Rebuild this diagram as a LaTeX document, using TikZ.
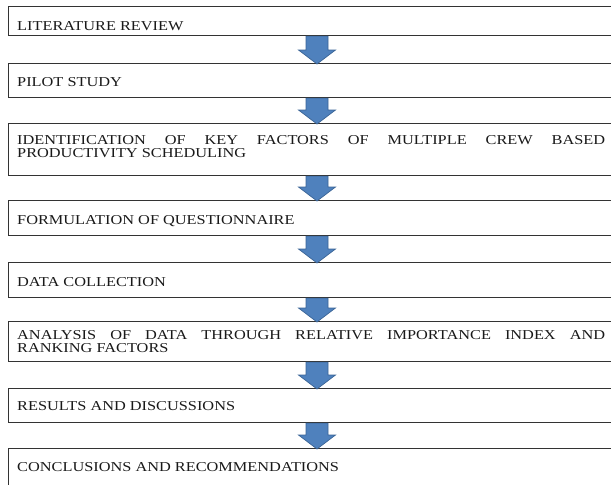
\documentclass[tikz,border=0pt]{standalone}
\usepackage{fontspec}
\setmainfont[FakeStretch=1.2]{Liberation Serif}
\usetikzlibrary{calc}
\definecolor{arrowfill}{HTML}{4F81BD}
\definecolor{arrowline}{HTML}{3A6496}
\tikzset{
  stagebox/.style={draw=black!80, line width=1.1pt, rectangle, minimum width=620pt, anchor=north west, inner sep=0pt},
  stagetext/.style={anchor=base west, inner sep=0pt, font=\fontsize{13.6}{15}\selectfont, text=black!90},
  fatarrowstyle/.style={fill=arrowfill, draw=arrowline, line width=0.7pt, line join=miter},
}
\newcommand\fatarrow[2]{%
  \draw[fatarrowstyle] ($(#1.south -| ax)+(-11,0)$) -- ($(#2.north -| ax)+(-11,-13)$)
    -- ($(#2.north -| ax)+(-18.5,-13)$) -- ($(#2.north -| ax)+(0,1)$)
    -- ($(#2.north -| ax)+(18.5,-13)$) -- ($(#2.north -| ax)+(11,-13)$)
    -- ($(#1.south -| ax)+(11,0)$) -- cycle;}
\begin{document}
\begin{tikzpicture}[x=1pt, y=-1pt]
\useasboundingbox (0,0) rectangle (611,485);
\clip (0,0) rectangle (611,485);
\coordinate (ax) at (317,0);
\node[stagebox, minimum height=29pt] (b1) at (8,6) {};
\node[stagebox, minimum height=34pt] (b2) at (8,63) {};
\node[stagebox, minimum height=52pt] (b3) at (8,123) {};
\node[stagebox, minimum height=35pt] (b4) at (8,200) {};
\node[stagebox, minimum height=35pt] (b5) at (8,262) {};
\node[stagebox, minimum height=40pt] (b6) at (8,321) {};
\node[stagebox, minimum height=34pt] (b7) at (8,388) {};
\node[stagebox, minimum height=60pt] (b8) at (8,448) {};
\node[stagetext] (t1) at (17,30) {LITERATURE REVIEW};
\node[stagetext] (t2) at (17,86) {PILOT STUDY};
\node[stagetext] (t3a) at (17,144) {\makebox[588pt][s]{IDENTIFICATION OF KEY FACTORS OF MULTIPLE CREW BASED}};
\node[stagetext] (t3b) at (17,157) {PRODUCTIVITY SCHEDULING};
\node[stagetext] (t4) at (17,224) {FORMULATION OF QUESTIONNAIRE};
\node[stagetext] (t5) at (17,286) {DATA COLLECTION};
\node[stagetext] (t6a) at (17,339) {\makebox[588pt][s]{ANALYSIS OF DATA THROUGH RELATIVE IMPORTANCE INDEX AND}};
\node[stagetext] (t6b) at (17,352) {RANKING FACTORS};
\node[stagetext] (t7) at (17,410) {RESULTS AND DISCUSSIONS};
\node[stagetext] (t8) at (17,471) {CONCLUSIONS AND RECOMMENDATIONS};
\fatarrow{b1}{b2}
\fatarrow{b2}{b3}
\fatarrow{b3}{b4}
\fatarrow{b4}{b5}
\fatarrow{b5}{b6}
\fatarrow{b6}{b7}
\fatarrow{b7}{b8}
\end{tikzpicture}
\end{document}
